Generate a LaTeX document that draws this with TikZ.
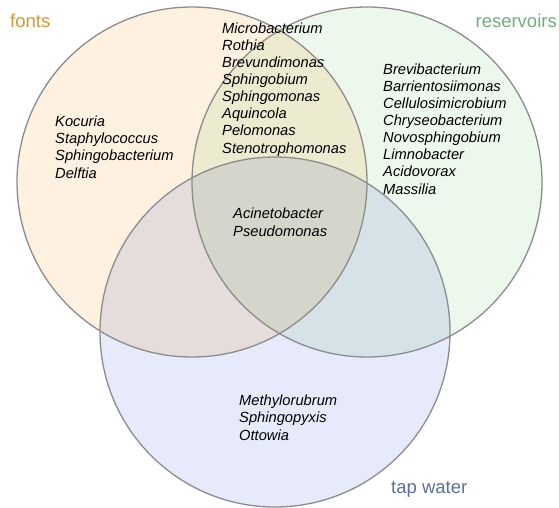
\documentclass[tikz,border=0pt]{standalone}
\usepackage{fontspec}
\setmainfont{Liberation Sans}

\definecolor{fontsfill}{RGB}{254,241,224}
\definecolor{resfill}{RGB}{237,248,236}
\definecolor{tapfill}{RGB}{230,234,251}
\definecolor{fontscol}{RGB}{212,152,46}
\definecolor{rescol}{RGB}{107,175,122}
\definecolor{tapcol}{RGB}{90,111,160}
\definecolor{vennline}{RGB}{140,140,140}

\tikzset{
  venn/.style={circle, minimum size=350pt, inner sep=0pt},
  vennedge/.style={draw=vennline, line width=1.3pt},
  taxa/.style={font=\fontsize{14.7}{17.1}\selectfont\itshape, align=left,
    anchor=base west, inner sep=0pt},
  setlabel/.style={font=\fontsize{18.5}{22}\selectfont, inner sep=0pt}
}

\begin{document}
\begin{tikzpicture}[x=1pt, y=-1pt]
  \useasboundingbox (0,0) rectangle (559,507);

  % the three sets, overlaps by multiply
  \begin{scope}[blend group=multiply]
    \node[venn, fill=fontsfill] (fonts) at (192,182) {};
    \node[venn, fill=resfill] (reservoirs) at (367,182) {};
    \node[venn, fill=tapfill] (tapwater) at (275,332) {};
  \end{scope}
  \foreach \s in {fonts, reservoirs, tapwater}
    \draw[vennedge] (\s.center) circle[radius=175pt];

  % set names
  \node[setlabel, text=fontscol, anchor=base west] (fontsname) at (10,27) {fonts};
  \node[setlabel, text=rescol, anchor=base east] (resname) at (557,27) {reservoirs};
  \node[setlabel, text=tapcol, anchor=base west] (tapname) at (391,493) {tap water};

  % genera per region (base = last line)
  \node[taxa] (onlyfonts) at (55,178)
    {Kocuria\\Staphylococcus\\Sphingobacterium\\Delftia};
  \node[taxa] (fontsres) at (222,153)
    {Microbacterium\\Rothia\\Brevundimonas\\Sphingobium\\Sphingomonas\\Aquincola\\Pelomonas\\Stenotrophomonas};
  \node[taxa] (onlyres) at (383,194)
    {Brevibacterium\\Barrientosiimonas\\Cellulosimicrobium\\Chryseobacterium\\Novosphingobium\\Limnobacter\\Acidovorax\\Massilia};
  \node[taxa] (allthree) at (233,236)
    {Acinetobacter\\Pseudomonas};
  \node[taxa] (onlytap) at (239,440)
    {Methylorubrum\\Sphingopyxis\\Ottowia};
\end{tikzpicture}
\end{document}
